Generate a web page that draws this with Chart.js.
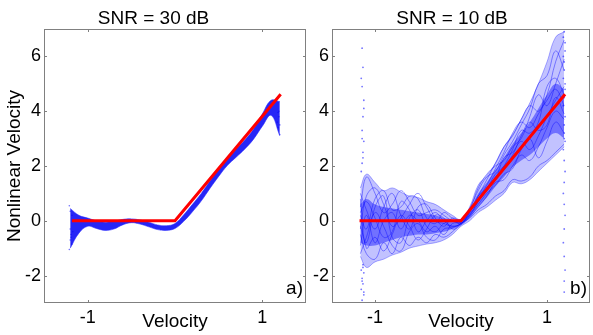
<!DOCTYPE html>
<html>
<head>
<meta charset="utf-8">
<script src="https://cdn.jsdelivr.net/npm/chart.js@4.4.1/dist/chart.umd.min.js"></script>
<style>
  html, body { margin: 0; padding: 0; background: #fff; overflow: hidden; width: 593px; height: 335px; }
  #a { position: absolute; left: 0; top: 0; }
  #b { position: absolute; left: 310px; top: 0; }
</style>
</head>
<body>
<canvas id="a" width="310" height="335"></canvas>
<canvas id="b" width="284" height="335"></canvas>
<script>
// axis ticks
const xTicks = [-1, 1];
const yTicks = [-2, 0, 2, 4, 6];

// red piecewise-linear reference (same in both panels)
const redX = [-1.18, 0, 1.21];
const redY = [0, 0, 4.62];

// panel a) SNR = 30 dB : blue band envelope
const xsA = [-1.2, -1.1, -1.0, -0.9, -0.8, -0.7, -0.6, -0.5, -0.4, -0.3, -0.2, -0.1, 0, 0.1, 0.2, 0.3, 0.4, 0.5, 0.6, 0.7, 0.8, 0.9, 1.0, 1.1, 1.2];
const upperA = [0.45, 0.2, 0.1, 0.0, -0.05, -0.02, 0.05, 0.07, 0.03, -0.05, -0.15, -0.18, -0.1, 0.22, 0.6, 1.0, 1.45, 1.9, 2.3, 2.62, 2.95, 3.35, 3.9, 4.4, 4.35];
const lowerA = [-1.0, -0.45, -0.2, -0.28, -0.35, -0.3, -0.15, -0.07, -0.12, -0.22, -0.32, -0.35, -0.28, -0.02, 0.33, 0.72, 1.18, 1.62, 2.02, 2.32, 2.62, 2.98, 3.45, 3.85, 3.1];
const dotsAx = [-1.21, -1.2, -1.19, -1.2, -1.18, -1.21, -1.19, -1.17, -1.2, -1.18, 1.17, 1.18, 1.19, 1.2, 1.18, 1.2, 1.19];
const dotsAy = [0.55, 0.35, -0.5, -0.7, -0.85, -1.05, -0.6, -0.4, -0.3, 0.2, 3.6, 3.4, 3.8, 3.15, 3.95, 3.5, 4.0];

// panel b) SNR = 10 dB : outer envelope, dense core and single curves
const xsB = [-1.17, -1.1, -1.0, -0.9, -0.8, -0.7, -0.6, -0.5, -0.4, -0.3, -0.2, -0.1, 0, 0.1, 0.2, 0.3, 0.4, 0.5, 0.6, 0.7, 0.8, 0.9, 1.0, 1.1, 1.2];
const upperB = [1.2, 1.7, 1.4, 1.1, 1.2, 1.05, 0.9, 0.85, 0.7, 0.6, 0.4, 0.2, 0.05, 0.5, 1.3, 1.65, 2.1, 2.7, 3.15, 3.7, 4.3, 5.0, 5.8, 6.7, 6.9];
const lowerB = [-1.3, -1.7, -1.5, -1.4, -1.25, -1.15, -1.0, -0.92, -0.85, -0.8, -0.7, -0.5, -0.2, 0.0, 0.3, 0.5, 0.75, 1.0, 1.4, 1.35, 1.5, 1.8, 2.1, 2.4, 2.7];
const coreUpB = [0.6, 0.8, 0.6, 0.5, 0.45, 0.4, 0.35, 0.3, 0.25, 0.2, 0.1, 0.05, 0.0, 0.4, 1.0, 1.4, 1.85, 2.3, 2.8, 3.2, 3.6, 4.1, 4.6, 5.0, 4.8];
const coreLoB = [-0.8, -0.9, -0.9, -0.8, -0.7, -0.6, -0.55, -0.5, -0.5, -0.45, -0.4, -0.3, -0.15, 0.1, 0.5, 0.85, 1.25, 1.6, 1.95, 2.2, 2.4, 2.7, 3.0, 3.2, 3.0];
const curvesB = [
  [0.5, 1.6, 1.0, 0.3, 0.6, 1.1, 0.7, 0.2, 0.3, 0.4, 0.2, 0.0, -0.05, 0.35, 0.9, 1.5, 2.1, 2.7, 3.1, 3.7, 4.2, 4.0, 4.6, 5.8, 6.6],
  [-0.5, -1.2, -1.4, -0.8, -1.2, -0.6, -0.9, -0.6, -0.8, -0.5, -0.6, -0.4, -0.1, 0.1, 0.4, 0.6, 0.9, 1.1, 1.5, 1.45, 1.6, 2.0, 2.2, 2.5, 2.8],
  [1.0, 0.4, -0.3, 0.5, 1.0, 0.2, -0.3, 0.5, 0.6, 0.1, -0.2, 0.1, 0.0, 0.25, 0.7, 1.2, 1.6, 2.0, 2.6, 3.3, 3.2, 3.6, 4.9, 5.2, 4.6],
  [-1.2, -0.6, 0.3, -0.2, -0.9, -1.1, -0.4, -0.1, -0.6, -0.7, -0.3, -0.25, -0.1, 0.2, 0.6, 1.0, 1.3, 1.7, 1.9, 2.6, 3.0, 2.3, 2.9, 3.6, 3.2],
  [0.2, -0.3, 0.8, 1.1, 0.4, 0.5, 0.9, 0.8, 0.1, -0.1, 0.3, 0.1, 0.05, 0.45, 1.1, 1.6, 1.8, 2.4, 2.9, 3.5, 4.1, 5.0, 5.3, 6.2, 5.5],
  [-0.3, 0.9, 1.2, 0.6, -0.2, 0.1, 0.6, 1.0, 0.5, 0.0, -0.1, -0.2, -0.1, 0.3, 0.8, 1.3, 1.9, 2.5, 3.2, 3.6, 3.4, 3.9, 4.4, 4.8, 4.2],
  [0.8, -1.0, -0.6, -1.1, -0.5, 0.2, -0.2, -0.7, -0.3, 0.2, 0.1, -0.3, -0.15, 0.15, 0.5, 0.9, 1.4, 1.5, 2.0, 2.4, 2.2, 2.7, 3.4, 4.0, 3.7],
  [-0.9, 0.2, -0.8, 0.0, 0.3, -0.3, 0.2, 0.0, -0.4, -0.2, -0.5, -0.1, -0.05, 0.4, 1.2, 1.7, 2.0, 2.2, 2.7, 3.0, 3.8, 4.6, 4.2, 5.0, 5.9],
  [0.3, 0.7, 0.1, -0.6, -0.4, 0.7, 0.4, -0.4, 0.0, 0.3, 0.0, -0.2, -0.1, 0.2, 0.7, 1.1, 1.5, 2.3, 2.5, 2.9, 2.6, 3.1, 3.8, 4.4, 4.9],
  [-0.2, -0.8, 0.5, 0.9, -0.6, -0.8, 0.1, 0.4, -0.2, -0.4, -0.1, 0.0, -0.1, 0.3, 0.9, 1.2, 1.7, 2.0, 2.4, 3.1, 3.6, 3.3, 3.5, 4.5, 3.9]
];
// scattered samples at the two ends of panel b)
const dotsBx = [-1.15, -1.14, -1.15, -1.13, -1.14, -1.15, -1.13, -1.14, -1.15, -1.16, -1.14, -1.13, -1.15, -1.14, -1.16, -1.13, -1.15, -1.14,
                -1.16, -1.13, -1.15, -1.14, -1.16, -1.15, -1.13, -1.14,
                1.2, 1.21, 1.19, 1.2, 1.21, 1.2, 1.19, 1.21, 1.2, 1.2, 1.21, 1.19, 1.2, 1.21, 1.2, 1.19, 1.2, 1.21, 1.2, 1.19, 1.2, 1.21, 1.2, 1.2,
                1.19, 1.21, 1.2, 1.19, 1.21, 1.2];
const dotsBy = [6.3, 5.6, 4.9, 4.4, 3.8, 3.3, 2.9, 2.5, 2.1, 1.8, -1.6, -1.9, -2.1, -2.3, -2.5, -2.7, -2.9, -3.0,
                5.2, 4.1, 3.0, 2.3, -1.8, -2.2, -2.6, -1.7,
                6.9, 6.5, 6.0, 5.5, 5.0, 4.5, 4.2, 3.8, 3.5, 3.2, 2.9, 2.6, 2.2, 1.8, 1.4, 1.0, 0.6, 0.2, -0.3, -0.8, -1.3, -1.8, -2.2, -2.6,
                6.7, 6.2, 5.8, 5.2, 4.8, 3.0];

Chart.defaults.font.family = '"Liberation Sans", Arial, sans-serif';
Chart.defaults.color = '#000';

function pts(xs, ys) {
  return xs.map((x, i) => ({ x: x, y: ys[i] }));
}

const boxPlugin = {
  id: 'box',
  afterDraw(chart, args, opts) {
    const ctx = chart.ctx;
    const a = chart.chartArea;
    const sx = chart.scales.x;
    const sy = chart.scales.y;
    ctx.save();
    ctx.strokeStyle = '#808080';
    ctx.lineWidth = 1;
    ctx.strokeRect(Math.round(a.left) + 0.5, Math.round(a.top) + 0.5, Math.round(a.width) - 1, Math.round(a.height) - 1);
    ctx.beginPath();
    xTicks.forEach(v => {
      const px = Math.round(sx.getPixelForValue(v)) + 0.5;
      ctx.moveTo(px, a.bottom); ctx.lineTo(px, a.bottom - 3);
      ctx.moveTo(px, a.top); ctx.lineTo(px, a.top + 3);
    });
    yTicks.forEach(v => {
      const py = Math.round(sy.getPixelForValue(v)) + 0.5;
      ctx.moveTo(a.left, py); ctx.lineTo(a.left + 3, py);
      ctx.moveTo(a.right, py); ctx.lineTo(a.right - 3, py);
    });
    ctx.stroke();
    ctx.fillStyle = '#000';
    ctx.font = '19px "Liberation Sans", Arial, sans-serif';
    ctx.textAlign = 'right';
    ctx.textBaseline = 'alphabetic';
    ctx.fillText(opts.tag, a.right - 3, a.bottom - 9);
    ctx.restore();
  }
};

function scalesFor(yWidth, showYTitle) {
  return {
    x: {
      type: 'linear', min: -1.5, max: 1.5,
      grid: { display: false, drawTicks: false },
      border: { display: false },
      afterBuildTicks: s => { s.ticks = xTicks.map(v => ({ value: v })); },
      afterFit: s => { s.height = 32; },
      ticks: { font: { size: 18 }, padding: 4, maxRotation: 0 },
      title: { display: true, text: 'Velocity', font: { size: 19 }, padding: { top: 0, bottom: 2 } }
    },
    y: {
      type: 'linear', min: -3, max: 7,
      grid: { display: false, drawTicks: false },
      border: { display: false },
      afterBuildTicks: s => { s.ticks = yTicks.map(v => ({ value: v })); },
      afterFit: s => { s.width = yWidth; },
      ticks: { font: { size: 18 }, padding: 3 },
      title: { display: showYTitle, text: 'Nonlinear Velocity', font: { size: 19 }, padding: { top: 3, bottom: 0 } }
    }
  };
}

function baseOptions(title, tag, yWidth, showYTitle, padRight) {
  return {
    responsive: false,
    animation: false,
    devicePixelRatio: 1,
    layout: { padding: { left: 0, right: padRight, top: 0, bottom: 0 } },
    scales: scalesFor(yWidth, showYTitle),
    plugins: {
      legend: { display: false },
      tooltip: { enabled: false },
      title: { display: true, text: title, font: { size: 19, weight: 'normal', lineHeight: 1.0 }, color: '#000', padding: { top: 9, bottom: 1 } },
      box: { tag: tag }
    }
  };
}

const redSet = {
  type: 'line', data: pts(redX, redY), borderColor: '#ff0000', borderWidth: 3,
  pointRadius: 0, fill: false, order: 0
};

// panel a)
new Chart(document.getElementById('a'), {
  type: 'line',
  data: {
    datasets: [
      Object.assign({}, redSet),
      { data: pts(xsA, lowerA), borderColor: 'rgba(40,40,255,0.55)', borderWidth: 1, pointRadius: 0, tension: 0.4, fill: false, order: 1 },
      { data: pts(xsA, upperA), borderColor: 'rgba(40,40,255,0.55)', borderWidth: 1, pointRadius: 0, tension: 0.4,
        fill: '-1', backgroundColor: 'rgba(0,0,245,0.85)', order: 1 },
      { type: 'scatter', data: pts(dotsAx, dotsAy), pointRadius: 0.8, borderWidth: 0, backgroundColor: 'rgba(0,0,255,0.55)', order: 1 }
    ]
  },
  options: baseOptions('SNR = 30 dB', 'a)', 44, true, 3),
  plugins: [boxPlugin]
});

// panel b)
const setsB = [
  Object.assign({}, redSet),
  { data: pts(xsB, lowerB), borderColor: 'rgba(0,0,255,0.45)', borderWidth: 0.7, pointRadius: 0, tension: 0.4, fill: false, order: 1 },
  { data: pts(xsB, upperB), borderColor: 'rgba(0,0,255,0.45)', borderWidth: 0.7, pointRadius: 0, tension: 0.4,
    fill: '-1', backgroundColor: 'rgba(0,0,255,0.24)', order: 1 },
  { data: pts(xsB, coreLoB), borderWidth: 0, pointRadius: 0, tension: 0.4, fill: false, order: 1 },
  { data: pts(xsB, coreUpB), borderWidth: 0, pointRadius: 0, tension: 0.4,
    fill: '-1', backgroundColor: 'rgba(0,0,255,0.42)', order: 1 },
  { type: 'scatter', data: pts(dotsBx, dotsBy), pointRadius: 0.9, borderWidth: 0, backgroundColor: 'rgba(0,0,255,0.55)', order: 1 }
];
curvesB.forEach(c => {
  setsB.push({ data: pts(xsB, c), borderColor: 'rgba(0,0,255,0.6)', borderWidth: 0.7, pointRadius: 0, tension: 0.4, fill: false, order: 1 });
});

new Chart(document.getElementById('b'), {
  type: 'line',
  data: { datasets: setsB },
  options: baseOptions('SNR = 10 dB', 'b)', 22, false, 0),
  plugins: [boxPlugin]
});
</script>
</body>
</html>
